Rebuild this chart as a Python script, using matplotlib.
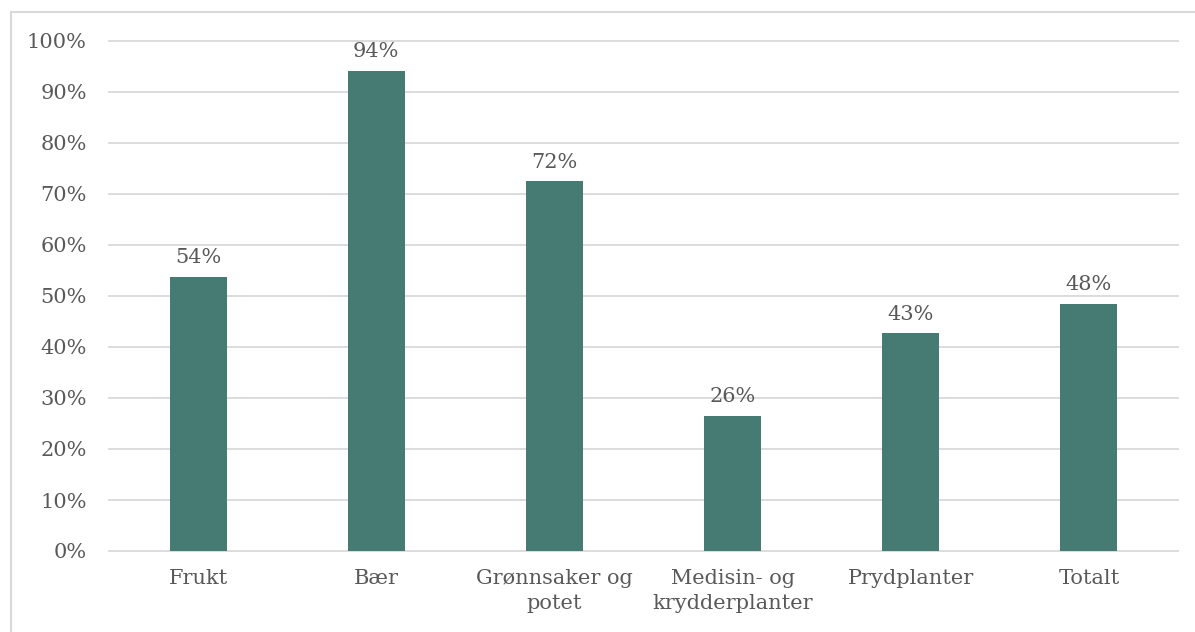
import matplotlib.pyplot as plt
from matplotlib.lines import Line2D
from matplotlib.ticker import MultipleLocator, FuncFormatter

categories = ["Frukt", "Bær", "Grønnsaker og\npotet", "Medisin- og\nkrydderplanter", "Prydplanter", "Totalt"]
values = [53.7, 94.1, 72.5, 26.5, 42.7, 48.4]
value_labels = ["54%", "94%", "72%", "26%", "43%", "48%"]

bar_color = "#457B72"
text_color = "#595959"
grid_color = "#D9D9D9"

plt.rcParams['font.family'] = ['DejaVu Serif']

fig = plt.figure(figsize=(11.95, 6.32), dpi=100)
ax = fig.add_axes([109 / 1195, 1 - 551 / 632, (1178 - 109) / 1195, (551 - 41) / 632])

x = range(len(categories))
bars = ax.bar(x, values, width=0.32, color=bar_color, zorder=3)

for b, lab in zip(bars, value_labels):
    ax.annotate(lab, (b.get_x() + b.get_width() / 2, b.get_height()),
                xytext=(0, 7), textcoords="offset points", ha="center", va="bottom",
                fontsize=15, color=text_color)

ax.set_ylim(0, 100)
ax.set_xlim(-0.5, len(categories) - 0.5)
ax.yaxis.set_major_locator(MultipleLocator(10))
ax.yaxis.set_major_formatter(FuncFormatter(lambda v, p: f"{v:.0f}%"))
ax.grid(axis="y", color=grid_color, linewidth=1.3, zorder=0)
for gl in ax.get_ygridlines():
    gl.set_clip_on(False)
ax.set_xticks(list(x))
ax.set_xticklabels(categories, fontsize=15, color=text_color, linespacing=1.4)
ax.tick_params(axis="y", labelsize=15, labelcolor=text_color, length=0, pad=16)
ax.tick_params(axis="x", length=0, pad=13)
for s in ax.spines.values():
    s.set_visible(False)

# outer frame (top and left only visible)
fig.add_artist(Line2D([11 / 1195, 1], [1 - 12 / 632, 1 - 12 / 632], color=grid_color, linewidth=1.5,
                      transform=fig.transFigure))
fig.add_artist(Line2D([11 / 1195, 11 / 1195], [0, 1 - 12 / 632], color=grid_color, linewidth=1.5,
                      transform=fig.transFigure))

plt.savefig("out.png", dpi=100)
